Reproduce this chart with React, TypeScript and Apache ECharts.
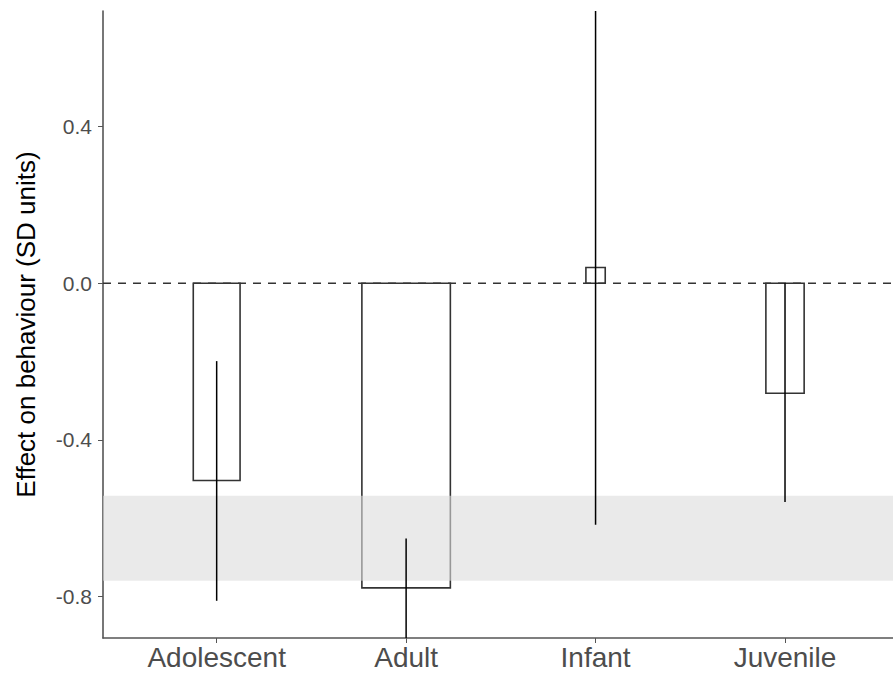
import React, { useEffect, useRef } from "react";
import * as echarts from "echarts";

const categories = ["Adolescent", "Adult", "Infant", "Juvenile"];
const effects = [-0.504, -0.778, 0.04, -0.281];
const relWidths = [0.247, 0.467, 0.102, 0.202];
const ciLow = [-0.811, -0.95, -0.617, -0.559];
const ciHigh = [-0.199, -0.652, 0.75, 0.0];
const bandRange = [-0.76, -0.543];
const yTicks = [-0.8, -0.4, 0.0, 0.4];
const xPositions = [1, 2, 3, 4];

const X_MIN = 0.4;
const X_MAX = 4.57;
const Y_MIN = -0.906;
const Y_MAX = 0.695;

const FONT = "Liberation Sans, Arial, Helvetica, sans-serif";

export default function App() {
  const ref = useRef<HTMLDivElement>(null);
  useEffect(() => {
    if (!ref.current) return;
    const chart = echarts.init(ref.current, null, { renderer: "svg" });
    const barData = categories.map((_, i) => [xPositions[i], effects[i], relWidths[i]]);
    const errData = categories.map((_, i) => [xPositions[i], ciLow[i], ciHigh[i]]);
    chart.setOption({
      animation: false,
      backgroundColor: "#ffffff",
      grid: { left: 103, right: 0, top: 11, bottom: 35, containLabel: false, outerBoundsMode: "none" },
      xAxis: {
        type: "value",
        min: X_MIN,
        max: X_MAX,
        splitLine: { show: false },
        axisLine: { show: true, onZero: false, lineStyle: { color: "#555555", width: 1.6 } },
        axisTick: { show: true, customValues: xPositions, length: 5, lineStyle: { color: "#555555", width: 1 } },
        axisLabel: {
          customValues: xPositions,
          formatter: (v: number) => categories[Math.round(v) - 1] ?? "",
          fontSize: 28,
          color: "#4d4d4d",
          fontFamily: FONT,
          margin: 5,
        },
      },
      yAxis: {
        type: "value",
        min: Y_MIN,
        max: Y_MAX,
        name: "Effect on behaviour (SD units)",
        nameLocation: "middle",
        nameRotate: 90,
        nameGap: 64,
        nameTextStyle: { fontSize: 26, color: "#000000", fontFamily: FONT },
        splitLine: { show: false },
        axisLine: { show: true, onZero: false, lineStyle: { color: "#555555", width: 1.6 } },
        axisTick: { show: true, customValues: yTicks, length: 5, lineStyle: { color: "#555555", width: 1 } },
        axisLabel: {
          customValues: yTicks,
          formatter: (v: number) => v.toFixed(1),
          fontSize: 21,
          color: "#4d4d4d",
          fontFamily: FONT,
          margin: 11,
        },
      },
      series: [
        {
          type: "custom",
          name: "bars",
          z: 2,
          data: barData,
          encode: { x: 0, y: 1 },
          renderItem: (params: any, api: any) => {
            const x = api.value(0);
            const v = api.value(1);
            const w = api.value(2);
            const p0 = api.coord([x - w / 2, 0]);
            const p1 = api.coord([x + w / 2, v]);
            return {
              type: "rect",
              shape: {
                x: p0[0],
                y: Math.min(p0[1], p1[1]),
                width: p1[0] - p0[0],
                height: Math.abs(p1[1] - p0[1]),
              },
              style: { fill: "none", stroke: "#333333", lineWidth: 1.6 },
            };
          },
        },
        {
          type: "custom",
          name: "band",
          z: 3,
          data: [[1, bandRange[0], bandRange[1]]],
          encode: { x: 0, y: [1, 2] },
          renderItem: (params: any, api: any) => {
            const cs = params.coordSys;
            const yLo = api.coord([1, api.value(1)])[1];
            const yHi = api.coord([1, api.value(2)])[1];
            return {
              type: "rect",
              shape: { x: cs.x, y: yHi, width: cs.width, height: yLo - yHi },
              style: { fill: "rgba(220,220,220,0.6)" },
            };
          },
        },
        {
          type: "line",
          name: "zero",
          z: 4,
          symbol: "none",
          data: [
            [X_MIN, 0],
            [X_MAX, 0],
          ],
          lineStyle: { color: "#333333", width: 1.6, type: [8, 7] },
        },
        {
          type: "custom",
          name: "ci",
          z: 5,
          clip: true,
          data: errData,
          encode: { x: 0, y: [1, 2] },
          renderItem: (params: any, api: any) => {
            const x = api.value(0);
            const lo = Math.max(api.value(1), Y_MIN);
            const hi = Math.min(api.value(2), Y_MAX);
            const a = api.coord([x, lo]);
            const b = api.coord([x, hi]);
            return {
              type: "line",
              shape: { x1: a[0], y1: a[1], x2: b[0], y2: b[1] },
              style: { stroke: "#000000", lineWidth: 1.5 },
            };
          },
        },
      ],
    });
    return () => chart.dispose();
  }, []);
  return (
    <div
      ref={ref}
      style={{ position: "fixed", left: 0, top: 0, width: 893, height: 673, background: "#fff" }}
    />
  );
}
